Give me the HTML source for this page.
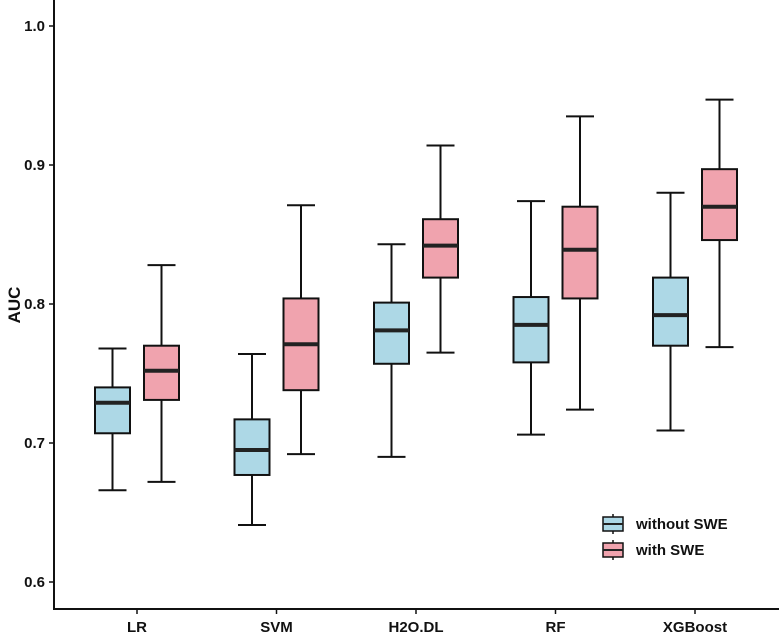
<!DOCTYPE html>
<html><head><meta charset="utf-8"><style>
body{margin:0;background:#fff;}
text{font-family:"Liberation Sans",Arial,sans-serif;font-weight:bold;fill:#111;}
</style></head><body>
<svg id="chart" width="779" height="633" xmlns="http://www.w3.org/2000/svg"></svg>
<script>
const categories=["LR","SVM","H2O.DL","RF","XGBoost"];
const seriesNames=["without SWE","with SWE"];
const withoutMin=[0.666,0.641,0.690,0.706,0.709];
const withoutQ1=[0.707,0.677,0.757,0.758,0.770];
const withoutMed=[0.729,0.695,0.781,0.785,0.792];
const withoutQ3=[0.740,0.717,0.801,0.805,0.819];
const withoutMax=[0.768,0.764,0.843,0.874,0.880];
const withMin=[0.672,0.692,0.765,0.724,0.769];
const withQ1=[0.731,0.738,0.819,0.804,0.846];
const withMed=[0.752,0.771,0.842,0.839,0.870];
const withQ3=[0.770,0.804,0.861,0.870,0.897];
const withMax=[0.828,0.871,0.914,0.935,0.947];
const yTicks=[0.6,0.7,0.8,0.9,1.0];
const yTickLabels=["0.6","0.7","0.8","0.9","1.0"];

const NS="http://www.w3.org/2000/svg";
const svg=document.getElementById('chart');
function y(v){return 582-(v-0.6)*1390;}
function x(i){return 137+i*139.5;}
function el(tag,attrs,parent){const e=document.createElementNS(NS,tag);for(const k in attrs)e.setAttribute(k,attrs[k]);(parent||svg).appendChild(e);return e;}

// axes
const ya=el('line',{x1:54,y1:0,x2:54,y2:610,stroke:'#111','stroke-width':2});


const xa=el('line',{x1:53,y1:609,x2:779,y2:609,stroke:'#111','stroke-width':2});


yTicks.forEach((t,i)=>{
 const tk=el('line',{x1:49,x2:54,y1:y(t),y2:y(t),stroke:'#111','stroke-width':1.5});
 
 
 const tl=el('text',{x:45,y:y(t)+5,'text-anchor':'end','font-size':15});
 tl.textContent=yTickLabels[i];
 
 
});
const yt=el('text',{x:0,y:0,'text-anchor':'middle','font-size':17,transform:'translate(20,305) rotate(-90)'});
yt.textContent='AUC';


categories.forEach((c,i)=>{
 const tk=el('line',{x1:x(i),x2:x(i),y1:609,y2:614,stroke:'#111','stroke-width':1.5});
 
 
 const tl=el('text',{x:x(i),y:634-2,'text-anchor':'middle','font-size':15});
 tl.textContent=c;
 
 
});
function box(cx,mn,q1,md,q3,mx,fill,name){
 const g=el('g',{});
 
 
 el('line',{x1:cx,x2:cx,y1:y(mx),y2:y(q3),stroke:'#111','stroke-width':2},g);
 el('line',{x1:cx,x2:cx,y1:y(q1),y2:y(mn),stroke:'#111','stroke-width':2},g);
 el('line',{x1:cx-14,x2:cx+14,y1:y(mx),y2:y(mx),stroke:'#111','stroke-width':2},g);
 el('line',{x1:cx-14,x2:cx+14,y1:y(mn),y2:y(mn),stroke:'#111','stroke-width':2},g);
 el('rect',{x:cx-17.5,y:y(q3),width:35,height:y(q1)-y(q3),fill:fill,stroke:'#111','stroke-width':2},g);
 el('line',{x1:cx-17.5,x2:cx+17.5,y1:y(md),y2:y(md),stroke:'#222','stroke-width':4},g);
}
categories.forEach((c,i)=>{
 box(x(i)-24.5,withoutMin[i],withoutQ1[i],withoutMed[i],withoutQ3[i],withoutMax[i],'#add8e6','box-without-swe-'+c.toLowerCase());
 box(x(i)+24.5,withMin[i],withQ1[i],withMed[i],withQ3[i],withMax[i],'#f0a3ae','box-with-swe-'+c.toLowerCase());
});
// legend
const fills=['#add8e6','#f0a3ae'];
seriesNames.forEach((s,i)=>{
 const g=el('g',{});
 
 
 const cy=524+i*26;
 el('line',{x1:613,x2:613,y1:cy-10,y2:cy+10,stroke:'#111','stroke-width':1.5},g);
 el('rect',{x:603,y:cy-7,width:20,height:14,fill:fills[i],stroke:'#111','stroke-width':1.5},g);
 el('line',{x1:603,x2:623,y1:cy,y2:cy,stroke:'#222','stroke-width':2},g);
 const t=el('text',{x:636,y:cy+5,'font-size':15},g);
 t.textContent=s;
});
</script>
</body></html>
